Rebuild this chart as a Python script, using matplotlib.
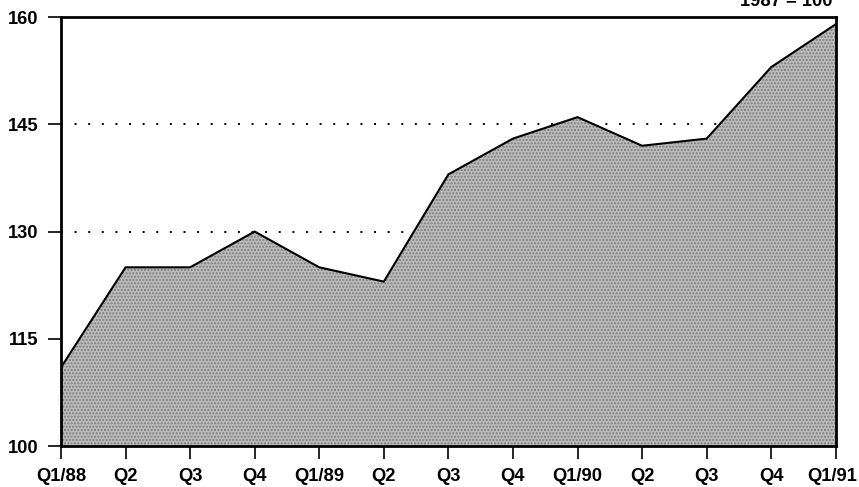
import matplotlib.pyplot as plt
import matplotlib.transforms as mtransforms
import numpy as np

quarters = ['Q1/88', 'Q2', 'Q3', 'Q4', 'Q1/89', 'Q2', 'Q3', 'Q4',
            'Q1/90', 'Q2', 'Q3', 'Q4', 'Q1/91']
index_values = [111, 125, 125, 130, 125, 123, 138, 143, 146, 142, 143, 153, 159]
y_ticks = [100, 115, 130, 145, 160]
grid_levels = [130, 145]

plt.rcParams['font.family'] = ['Liberation Sans', 'DejaVu Sans']
plt.rcParams['font.weight'] = 'bold'

fig = plt.figure(figsize=(8.59, 4.87), dpi=100)
ax = fig.add_axes([0.071, 0.084, 0.902, 0.881])

x = np.arange(len(quarters))

for lvl in grid_levels:
    ax.axhline(lvl, color='black', lw=1.4, linestyle=(0, (1, 6)), zorder=1)

ax.fill_between(x, index_values, 100, facecolor='#bcbcbc', edgecolor='#7a7a7a',
                hatch='.....', linewidth=0, zorder=2)
ax.plot(x, index_values, color='black', lw=1.5, zorder=3)

ax.set_xlim(0, len(quarters) - 1)
ax.set_ylim(100, 160)
ax.set_xticks(x)
ax.set_xticklabels(quarters, fontsize=13.2, fontweight='bold')
ax.set_yticks(y_ticks)
ax.set_yticklabels([str(v) for v in y_ticks], fontsize=13.2, fontweight='bold')
ax.tick_params(axis='x', length=9, width=1.2, pad=7)
ax.tick_params(axis='y', length=9.5, width=1.2, pad=6.5)

# nudge the last label left so it stays inside the figure
last = ax.get_xticklabels()[-1]
shift = mtransforms.ScaledTranslation(-4 / 100, 0, fig.dpi_scale_trans)
last.set_transform(last.get_transform() + shift)

for s in ax.spines.values():
    s.set_linewidth(2)
    s.set_zorder(4)

fig.text(0.969, 1 - 6 / 487, '1987 = 100', ha='right', va='baseline',
         fontsize=13.2, fontweight='bold')

fig.savefig('out.png', dpi=100)
